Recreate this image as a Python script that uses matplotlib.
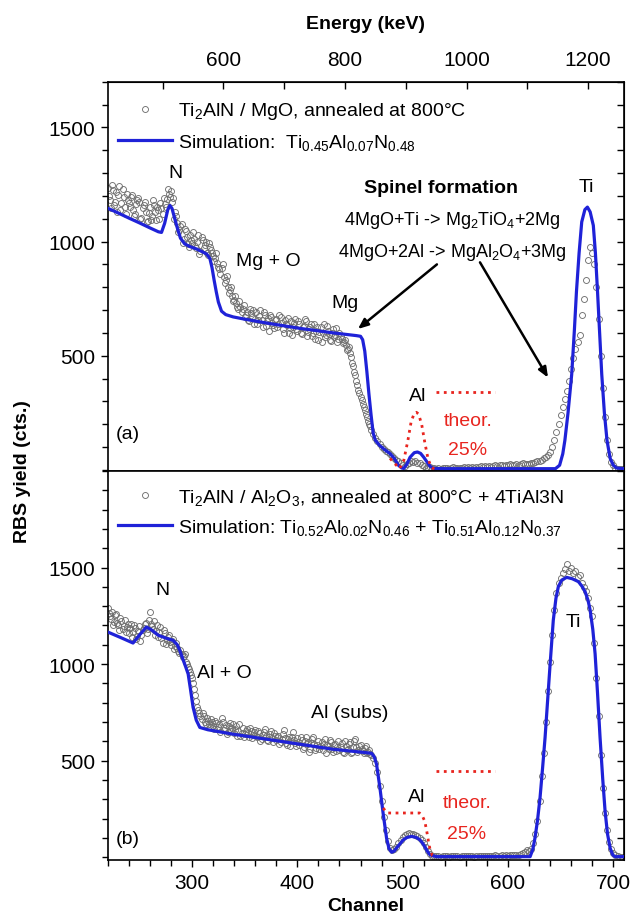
import numpy as np
import matplotlib
matplotlib.use("Agg")
import matplotlib.pyplot as plt
from matplotlib.lines import Line2D
from matplotlib.ticker import MultipleLocator

plt.rcParams["font.family"] = ["Liberation Sans", "DejaVu Sans"]
plt.rcParams["mathtext.default"] = "regular"

# ---- panel (a): Ti2AlN / MgO ----
# measured yield, even channels 220, 222, ...
meas_a = [
    1235, 1180, 1250, 1160, 1215, 1205, 1140, 1230, 1150, 1210,   # 220
    1170, 1195, 1140, 1120, 1180, 1175, 1105, 1160, 1130, 1090,   # 240
    1150, 1110, 1160, 1095, 1140, 1170, 1120, 1165, 1185, 1210,   # 260
    1220, 1190, 1130, 1080, 1050, 1075, 1010, 1045, 990, 1030,    # 280
    995, 1010, 970, 1030, 960, 1005, 985, 950, 995, 965,          # 300
    935, 930, 905, 880, 885, 845, 830, 800, 790, 760,             # 320
    745, 730, 705, 715, 705, 670, 690, 650, 685, 700,             # 340
    660, 640, 675, 655, 690, 630, 665, 680, 645, 620,             # 360
    660, 640, 670, 615, 655, 635, 600, 650, 625, 660,             # 380
    610, 640, 595, 630, 650, 605, 625, 585, 640, 610,             # 400
    570, 625, 600, 580, 630, 595, 565, 615, 590, 560,             # 420
    600, 575, 560, 545, 530, 510, 470, 430, 390, 350,             # 440
    320, 290, 260, 230, 200, 175, 155, 140, 125, 112,             # 460
    100, 92, 84, 76, 68, 60, 52, 45, 38, 30,                      # 480
    22, 18, 25, 30, 38, 35, 40, 32, 28, 20,                       # 500
    15, 10, 8, 12, 6, 10, 5, 9, 4, 8,                             # 520
    6, 10, 5, 8, 12, 7, 10, 6, 9, 12,                             # 540
    8, 12, 10, 14, 9, 13, 11, 15, 12, 16,                         # 560
    14, 18, 13, 17, 20, 15, 19, 22, 18, 21,                       # 580
    20, 24, 19, 23, 26, 22, 25, 28, 24, 27,                       # 600
    25, 30, 28, 35, 40, 38, 45, 50, 55, 65,                       # 620
    80, 100, 130, 165, 200, 240, 275, 310, 345, 390,              # 640
    440, 490, 530, 560, 590, 680, 750, 830, 920, 975,             # 660
    950, 900, 800, 660, 500, 360, 230, 130, 70, 35,               # 680
    20, 10, 5, 3, 2,                                              # 700
]
# odd channels 221, 223, ... 469 (noisy thick-film part)
meas_a_odd = [
    1200, 1145, 1225, 1175, 1130, 1245, 1170, 1195, 1120, 1180,   # 221
    1150, 1205, 1110, 1165, 1190, 1100, 1145, 1175, 1085, 1125,   # 241
    1095, 1180, 1130, 1150, 1100, 1145, 1190, 1150, 1230, 1195,   # 261
    1175, 1100, 1110, 1040, 1070, 995, 1055, 1020, 975, 1005,     # 281
    1040, 980, 1000, 945, 1020, 970, 1000, 940, 975, 950,         # 301
    915, 950, 890, 860, 900, 820, 850, 775, 800, 740,             # 321
    760, 715, 740, 690, 720, 680, 655, 705, 670, 640,             # 341
    690, 655, 700, 625, 680, 650, 610, 670, 635, 655,             # 361
    625, 680, 645, 600, 640, 665, 620, 590, 645, 615,             # 381
    650, 600, 625, 660, 585, 615, 640, 600, 575, 625,             # 401
    605, 560, 640, 590, 610, 570, 600, 580, 620, 575,             # 421
    585, 555, 570, 525, 540, 495, 455, 415, 370, 335,             # 441
    305, 275, 245, 215, 190,                                      # 461
]

sim_a_ch = [220, 230, 240, 250, 260, 268, 271, 274, 277, 279, 281, 283, 286,
            289, 293, 298, 304, 310, 314, 317, 319, 321, 323, 325, 328, 332,
            339, 350, 371, 402, 434, 456, 460, 462, 464, 466, 468, 470, 472,
            474, 478, 483, 488, 492, 496, 499, 501, 504, 507, 511, 514, 517,
            520, 523, 526, 529, 540, 600, 645, 649, 652, 654, 657, 660.5, 663,
            665, 667.5, 670, 673, 675.4, 678, 681, 683, 685, 687, 689, 691.5,
            694, 697, 700, 703, 710]
sim_a = [1146, 1125, 1103, 1082, 1060, 1043, 1040, 1080, 1140, 1158, 1145, 1110,
         1060, 1015, 990, 978, 968, 955, 945, 925, 885, 830, 780, 735, 695, 680,
         670, 660, 643, 620, 600, 588, 585, 570, 520, 430, 330, 240, 160, 130,
         107, 88, 71, 50, 20, 8, 6, 25, 55, 75, 78, 72, 55, 35, 15, 6, 5, 5, 5,
         20, 70, 129, 250, 419, 610, 781, 950, 1086, 1140, 1151, 1130, 1071, 950,
         781, 600, 419, 250, 129, 50, 20, 8, 5]

theo_a_ch = [488, 493, 497, 501, 505, 508, 511, 513, 515, 518, 521, 524, 527, 530]
theo_a = [50, 25, 5, 40, 130, 210, 248, 252, 245, 200, 120, 50, 12, 3]

# ---- panel (b): Ti2AlN / Al2O3 ----
meas_b = [
    1290, 1250, 1270, 1220, 1260, 1200, 1240, 1180, 1230, 1190,   # 220
    1160, 1210, 1165, 1185, 1145, 1195, 1150, 1185, 1215, 1180,   # 240
    1270, 1195, 1225, 1170, 1140, 1190, 1110, 1160, 1125, 1150,   # 260
    1100, 1130, 1095, 1085, 1060, 1050, 1040, 1010, 985, 960,     # 280
    930, 870, 810, 760, 730, 745, 700, 720, 690, 715,             # 300
    680, 705, 665, 690, 720, 660, 685, 650, 695, 670,             # 320
    645, 680, 655, 630, 670, 640, 665, 625, 655, 635,             # 340
    660, 620, 645, 610, 650, 630, 600, 640, 615, 645,             # 360
    605, 630, 595, 640, 615, 580, 625, 600, 650, 590,             # 380
    615, 580, 605, 570, 620, 595, 560, 610, 585, 565,             # 400
    600, 575, 555, 610, 580, 560, 595, 545, 585, 570,             # 420
    555, 590, 540, 575, 560, 595, 545, 600, 570, 555,             # 440
    580, 550, 565, 540, 555, 530, 515, 490, 440, 370,             # 460
    290, 210, 140, 85, 50, 35, 40, 55, 75, 90,                    # 480
    105, 115, 120, 125, 122, 120, 115, 108, 100, 88,              # 500
    72, 52, 32, 16, 8, 5, 4, 6, 3, 5,                             # 520
    4, 6, 3, 5, 7, 4, 6, 3, 5, 4,                                 # 540
    6, 4, 5, 7, 3, 5, 6, 4, 7, 5,                                 # 560
    6, 8, 5, 7, 9, 6, 8, 10, 7, 9,                                # 580
    8, 10, 12, 9, 13, 11, 15, 20, 25, 35,                         # 600
    30, 45, 75, 120, 190, 290, 420, 540, 700, 860,                # 620
    1010, 1150, 1280, 1370, 1420, 1445, 1470, 1490, 1520, 1480,   # 640
    1500, 1470, 1480, 1450, 1460, 1420, 1400, 1380, 1340, 1290,   # 660
    1250, 1110, 930, 730, 530, 360, 230, 140, 80, 40,             # 680
    20, 10, 5, 3, 2,                                              # 700
]
meas_b_odd = [
    1265, 1235, 1200, 1255, 1215, 1175, 1225, 1195, 1165, 1210,   # 221
    1185, 1140, 1200, 1130, 1170, 1120, 1175, 1205, 1160, 1230,   # 241
    1210, 1180, 1150, 1200, 1165, 1135, 1175, 1105, 1140, 1115,   # 261
    1120, 1080, 1110, 1070, 1075, 1035, 1050, 1000, 975, 945,     # 281
    900, 840, 780, 745, 715, 730, 690, 705, 675, 700,             # 301
    665, 695, 675, 650, 700, 670, 640, 680, 655, 690,             # 321
    660, 630, 690, 645, 620, 655, 645, 670, 615, 650,             # 341
    630, 655, 600, 635, 665, 605, 625, 655, 595, 630,             # 361
    620, 585, 610, 660, 590, 610, 575, 620, 605, 575,             # 381
    595, 625, 560, 600, 585, 545, 590, 625, 555, 580,             # 401
    560, 595, 585, 540, 575, 605, 560, 580, 550, 600,             # 421
    570, 545, 600, 555, 585, 540, 570, 610, 545, 575,             # 441
    560, 540, 575, 545, 535,                                      # 461
]

sim_b_ch = [220, 232, 244, 250, 256.7, 262, 268, 275, 282, 286, 288.4, 291, 294,
            296.3, 298.5, 301, 304, 307.4, 315, 339, 370.7, 402.4, 434, 466,
            470.5, 473, 475.2, 478.4, 481.6, 484.7, 487, 489.5, 492, 494, 500.6,
            504, 508.5, 513, 516.4, 519, 521, 523.5, 526, 532, 621, 623.5, 625.6,
            628, 630.4, 632.8, 635.2, 637.6, 640, 643, 645.5, 647.8, 651, 655.7,
            661, 666.8, 670, 673.2, 676, 678, 680.5, 682.7, 685, 687.4, 690,
            692.2, 694.5, 697, 699.5, 701.6, 710]
sim_b = [1166, 1138, 1109, 1150, 1192, 1175, 1149, 1135, 1123, 1100, 1071, 1030,
         985, 949, 870, 776, 710, 672, 660, 637, 611, 585, 559, 541, 538, 520,
         481, 359, 220, 99, 45, 26, 32, 47, 90, 102, 108, 102, 90, 72, 55, 30,
         12, 3, 3, 40, 99, 190, 307, 460, 620, 810, 1001, 1227, 1340, 1401, 1435,
         1449, 1442, 1427, 1405, 1375, 1330, 1279, 1180, 1053, 850, 620, 400,
         237, 120, 47, 12, 3, 3]

theo_b_ch = [481.6, 484, 486, 516, 519, 521, 523, 524.5, 526, 528, 531]
theo_b = [255, 235, 229, 229, 210, 186, 130, 81, 40, 10, 3]

BLUE = "#1f22d8"
RED = "#e8251f"
GREY = "#707070"
FS = 14
TFS = 15


def draw_panel(ax, meas, meas_odd, sim_ch, sim, theo_ch, theo, theo_level):
    ch = 220 + 2 * np.arange(len(meas))
    ch_odd = 221 + 2 * np.arange(len(meas_odd))
    for x, y in ((ch, meas), (ch_odd, meas_odd)):
        ax.plot(x, y, "o", ms=4.3, mfc="none", mec=GREY, mew=0.65, zorder=2)
    ax.plot(sim_ch, sim, "-", color=BLUE, lw=2.3, zorder=3)
    ax.plot(theo_ch, theo, ":", color=RED, lw=2.0, zorder=4)
    ax.plot([532, 588], [theo_level, theo_level], ":", color=RED, lw=2.0)
    ax.set_xlim(220, 710)
    ax.xaxis.set_major_locator(MultipleLocator(100))
    ax.xaxis.set_minor_locator(MultipleLocator(20))
    ax.yaxis.set_major_locator(MultipleLocator(500))
    ax.yaxis.set_minor_locator(MultipleLocator(100))
    ax.tick_params(which="both", left=True, right=False, top=False,
                   labelsize=TFS, width=1.0, direction="out")
    ax.tick_params(which="major", length=5)
    ax.tick_params(which="minor", length=4)
    ax.tick_params(axis="y", pad=4)
    for s in ax.spines.values():
        s.set_linewidth(1.2)
    # right axis ticks point inwards
    sec = ax.secondary_yaxis("right")
    sec.yaxis.set_major_locator(MultipleLocator(100))
    sec.tick_params(direction="in", length=5, width=1.0, labelright=False)


fig = plt.figure(figsize=(6.34, 9.2), dpi=100)
ax_a = fig.add_axes([0.170, 0.487, 0.814, 0.423])
ax_b = fig.add_axes([0.170, 0.064, 0.814, 0.423])

draw_panel(ax_a, meas_a, meas_a_odd, sim_a_ch, sim_a, theo_a_ch, theo_a, 340)
draw_panel(ax_b, meas_b, meas_b_odd, sim_b_ch, sim_b, theo_b_ch, theo_b, 446)

ax_a.set_ylim(-5, 1700)
ax_b.set_ylim(-15, 2000)
ax_a.set_yticks([500, 1000, 1500])
ax_b.set_yticks([500, 1000, 1500])
ax_a.tick_params(axis="x", labelbottom=False)
ax_b.tick_params(axis="x", pad=4)
ax_b.set_xlabel("Channel", fontsize=FS, fontweight="bold", labelpad=4)

# top energy axis
E0, dE = 28.4, 1.733
top = ax_a.secondary_xaxis("top", functions=(lambda c: dE * c + E0,
                                             lambda e: (e - E0) / dE))
top.set_xticks([600, 800, 1000, 1200])
top.xaxis.set_minor_locator(MultipleLocator(100))
top.tick_params(which="both", direction="in", length=5, width=1.0,
                labelsize=TFS, pad=9)
top.set_xlabel("Energy (keV)", fontsize=FS, fontweight="bold", labelpad=16)

fig.text(0.035, 0.487, "RBS yield (cts.)", rotation=90, ha="center",
         va="center", fontsize=FS, fontweight="bold")

# legends
h_meas = Line2D([], [], ls="none", marker="o", ms=4.3, mfc="none", mec=GREY,
                mew=0.65)
h_sim = Line2D([], [], color=BLUE, lw=2.3)
leg_kw = dict(loc="upper left", frameon=False, fontsize=FS, handlelength=2.8,
              handletextpad=0.3, labelspacing=0.55, borderaxespad=0)
ax_a.legend([h_meas, h_sim],
            ["Ti$_2$AlN / MgO, annealed at 800°C",
             "Simulation:  Ti$_{0.45}$Al$_{0.07}$N$_{0.48}$"],
            bbox_to_anchor=(0.004, 0.972), **leg_kw)
ax_b.legend([h_meas, h_sim],
            ["Ti$_2$AlN / Al$_2$O$_3$, annealed at 800°C + 4TiAl3N",
             "Simulation: Ti$_{0.52}$Al$_{0.02}$N$_{0.46}$ + "
             "Ti$_{0.51}$Al$_{0.12}$N$_{0.37}$"],
            bbox_to_anchor=(0.004, 0.98), **leg_kw)

# annotations (a)
kw = dict(ha="center", va="center", fontsize=FS)
ax_a.text(284, 1304, "N", **kw)
ax_a.text(372, 917, "Mg + O", **kw)
ax_a.text(445, 735, "Mg", **kw)
ax_a.text(514, 326, "Al", **kw)
ax_a.text(562, 217, "theor.", color=RED, **kw)
ax_a.text(562, 87, "25%", color=RED, **kw)
ax_a.text(239, 157, "(a)", **kw)
ax_a.text(536, 1239, "Spinel formation", ha="center", va="center",
          fontsize=FS, fontweight="bold")
ax_a.text(547, 1096, "4MgO+Ti -> Mg$_2$TiO$_4$+2Mg", ha="center", va="center",
          fontsize=13)
ax_a.text(547, 957, "4MgO+2Al -> MgAl$_2$O$_4$+3Mg", ha="center", va="center",
          fontsize=13)
ax_a.text(674, 1243, "Ti", **kw)
arrow = dict(arrowstyle="-|>,head_length=0.6,head_width=0.25", color="black",
             lw=1.8, shrinkA=0, shrinkB=0)
ax_a.annotate("", xy=(457.5, 617), xytext=(532.5, 900), arrowprops=arrow)
ax_a.annotate("", xy=(638, 404), xytext=(573.4, 909), arrowprops=arrow)

# annotations (b)
ax_b.text(272, 1385, "N", **kw)
ax_b.text(331, 958, "Al + O", **kw)
ax_b.text(450, 750, "Al (subs)", **kw)
ax_b.text(513.5, 313, "Al", **kw)
ax_b.text(561, 281, "theor.", color=RED, **kw)
ax_b.text(561, 125, "25%", color=RED, **kw)
ax_b.text(239, 99, "(b)", **kw)
ax_b.text(662, 1219, "Ti", **kw)

fig.savefig("out.png", dpi=100)
